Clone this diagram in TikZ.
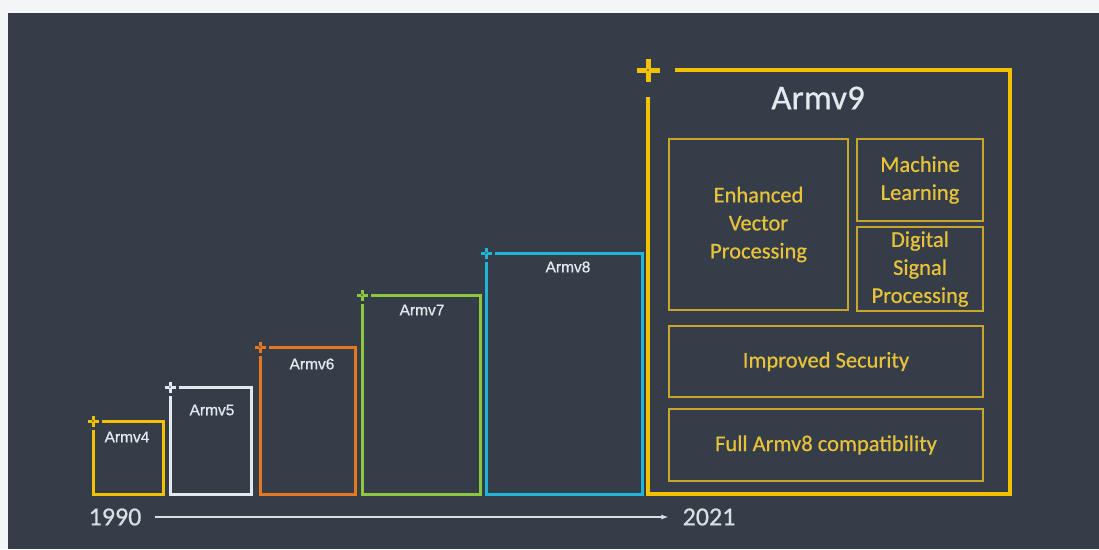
\documentclass[tikz,border=0pt]{standalone}
\usepackage{fontspec}
\setmainfont{Carlito}
\newfontfamily\featfont[FakeBold=0.6]{Carlito}
\newfontfamily\lblfont[FakeBold=0.8]{Liberation Sans}
\usetikzlibrary{arrows.meta,calc}
\definecolor{pagebg}{HTML}{F4F5F7}
\definecolor{panel}{HTML}{353D48}
\definecolor{armyellow}{HTML}{F2C200}
\definecolor{armwhite}{HTML}{E2EAF0}
\definecolor{armorange}{HTML}{E87722}
\definecolor{armgreen}{HTML}{8DC63F}
\definecolor{armcyan}{HTML}{1FB5D8}
\definecolor{innergold}{HTML}{C9A52C}
\definecolor{textgold}{HTML}{E8C23A}
\definecolor{lightgray}{HTML}{D9DEE3}
\tikzset{
  verlabel/.style={text=armwhite, font=\lblfont\fontsize{15.5}{17}\selectfont, inner sep=0pt},
  featbox/.style={draw=innergold, line width=2pt, text=textgold, align=center,
    font=\featfont\fontsize{22.5}{28}\selectfont, inner sep=0pt},
  yearlbl/.style={text=lightgray, font=\featfont\fontsize{26}{28}\selectfont, inner sep=0pt},
}
% #1 color, #2 left, #3 right, #4 top, #5 bottom, #6 line width, #7 gap, #8 arm, #9 arm width
\newcommand\armstep[9]{%
  \draw[#1, line width=#6] (#2,#4+#7) -- (#2,#5) -- (#3,#5) -- (#3,#4) -- (#2+#7,#4);
  \draw[#1, line width=#9] (#2-#8,#4) -- (#2+#8,#4) (#2,#4-#8) -- (#2,#4+#8);
  \fill[panel] (#2,#4) circle (0.8);
}
\begin{document}
\begin{tikzpicture}[x=1pt,y=-1pt]
\fill[pagebg] (0,0) rectangle (1099,549);
\fill[panel] (8,13) rectangle (1099,549);
\useasboundingbox (0,0) rectangle (1099,549);

% version steps
\armstep{armyellow}{93}{163}{421}{494}{3pt}{9}{5.5}{3pt}
\armstep{armwhite}{170}{251}{387}{494}{3pt}{9}{5.5}{3pt}
\armstep{armorange}{260}{355}{347}{494}{3pt}{9}{5.5}{3pt}
\armstep{armgreen}{362}{480}{295}{494}{3pt}{9}{5.5}{3pt}
\armstep{armcyan}{486}{642}{253}{494}{3pt}{9}{5.5}{3pt}
\armstep{armyellow}{648}{1010}{70}{494}{4pt}{27}{11.5}{5pt}

\node[verlabel] (v4) at (127,437) {Armv4};
\node[verlabel] (v5) at (212,410) {Armv5};
\node[verlabel] (v6) at (312,364) {Armv6};
\node[verlabel] (v7) at (422,310) {Armv7};
\node[verlabel] (v8) at (568,267) {Armv8};
\node[text=armwhite, font=\featfont\fontsize{35}{37}\selectfont, inner sep=0pt] (v9) at (818,98) {Armv9};

% Armv9 features
\node[featbox, minimum width=179pt, minimum height=171pt] (evp) at (758.5,224.5) {Enhanced\\Vector\\Processing};
\node[featbox, minimum width=126pt, minimum height=82pt] (ml) at (920,180) {Machine\\Learning};
\node[featbox, minimum width=126pt, minimum height=84pt] (dsp) at (920,269) {Digital\\Signal\\Processing};
\node[featbox, minimum width=314pt, minimum height=71pt] (sec) at (826,361.5) {Improved Security};
\node[featbox, minimum width=314pt, minimum height=72pt] (compat) at (826,445) {Full Armv8 compatibility};

% timeline
\node[yearlbl] (y1990) at (115,517) {1990};
\node[yearlbl] (y2021) at (709,517) {2021};
\draw[lightgray, line width=1.2pt, -{Latex[length=7pt,width=5pt]}] ($(y1990.east)+(13,0)$) -- ($(y2021.west)+(-14,0)$);
\end{tikzpicture}
\end{document}
